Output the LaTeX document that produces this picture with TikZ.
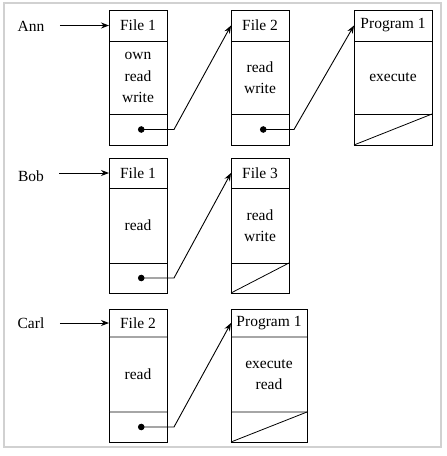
\documentclass[tikz,border=0pt]{standalone}
\usepackage{fontspec}
\setmainfont{Liberation Serif}
\usetikzlibrary{positioning}
\usetikzlibrary{arrows.meta}

\begin{document}
\begin{tikzpicture}[x=1pt,y=-1pt,font=\fontsize{15.5}{21.5}\selectfont,
		cell/.style={draw,line width=1pt,rectangle,outer sep=0pt,inner sep=0pt,minimum width=58pt,align=center},
		hdr/.style={cell,minimum height=31pt},
		body/.style={cell,minimum height=73pt},
		foot/.style={cell,minimum height=31pt},
		link/.style={{Circle[length=6.5pt]}-{Stealth[length=8pt,width=6pt]},line width=0.9pt},
		enter/.style={-{Stealth[length=8pt,width=6pt]},line width=0.9pt},
		divider/.style={draw=black!35,line width=2.5pt},
		empty/.style={line width=0.8pt}]
		\useasboundingbox (0,0) rectangle (447,456);
		\draw[black!18,line width=1.5pt] (4,3) rectangle (441,447);
		% Ann
		\node (ann) at (31,26) {Ann};
		\node[hdr] (a1h) at (138,25.5) {File 1};
		\node[body,below=0pt of a1h] (a1b) {own\\read\\write};
		\node[foot,below=0pt of a1b] (a1f) {};
		\node[hdr] (a2h) at (260,25.5) {File 2};
		\node[body,below=0pt of a2h] (a2b) {read\\write};
		\node[foot,below=0pt of a2b] (a2f) {};
		\node[hdr,minimum width=78pt] (a3h) at (393,25.5) {Program 1};
		\node[body,minimum width=78pt,below=0pt of a3h] (a3b) {execute};
		\node[foot,minimum width=78pt,below=0pt of a3b] (a3f) {};
		% Bob
		\node (bob) at (31,176) {Bob};
		\node[hdr,minimum height=30pt] (b1h) at (138,173) {File 1};
		\node[body,minimum height=75pt,below=0pt of b1h] (b1b) {read};
		\node[foot,minimum height=30pt,below=0pt of b1b] (b1f) {};
		\node[hdr,minimum height=30pt] (b2h) at (260,173) {File 3};
		\node[body,minimum height=75pt,below=0pt of b2h] (b2b) {read\\write};
		\node[foot,minimum height=30pt,below=0pt of b2b] (b2f) {};
		% Carl
		\node (carl) at (31,323) {Carl};
		\node[hdr,minimum height=28pt] (c1h) at (138,323) {File 2};
		\node[body,minimum height=75pt,below=0pt of c1h] (c1b) {read};
		\node[foot,minimum height=30pt,below=0pt of c1b] (c1f) {};
		\node[hdr,minimum height=28pt,minimum width=76pt] (c2h) at (269,323) {Program 1};
		\node[body,minimum height=75pt,minimum width=76pt,below=0pt of c2h] (c2b) {execute\\read};
		\node[foot,minimum height=30pt,minimum width=76pt,below=0pt of c2b] (c2f) {};
		\foreach \b in {c1,c2} {
			\draw[divider] (\b h.south west) ++(0.5,0) -- ([xshift=-0.5pt]\b h.south east);
			\draw[divider] (\b b.south west) ++(0.5,0) -- ([xshift=-0.5pt]\b b.south east);
		}
		% entries
		\draw[enter] (ann.east |- a1h.west) ++(12,0) -- (a1h.west);
		\draw[enter] (bob.east |- b1h.west) ++(12,0) -- (b1h.west);
		\draw[enter] (carl.east |- c1h.west) ++(12,0) -- (c1h.west);
		% pointers
		\draw[link] (a1f.center) -- ++(36,0) -- (a2h.west);
		\draw[link] (a2f.center) -- ++(34,0) -- (a3h.west);
		\draw[link] (b1f.center) -- ++(36,0) -- (b2h.west);
		\draw[link] (c1f.center) -- ++(36,0) -- (c2h.west);
		% empty pointers
		\draw[empty] (a3f.south west) -- (a3f.north east);
		\draw[empty] (b2f.south west) -- (b2f.north east);
		\draw[empty] (c2f.south west) -- (c2f.north east);
\end{tikzpicture}
\end{document}
